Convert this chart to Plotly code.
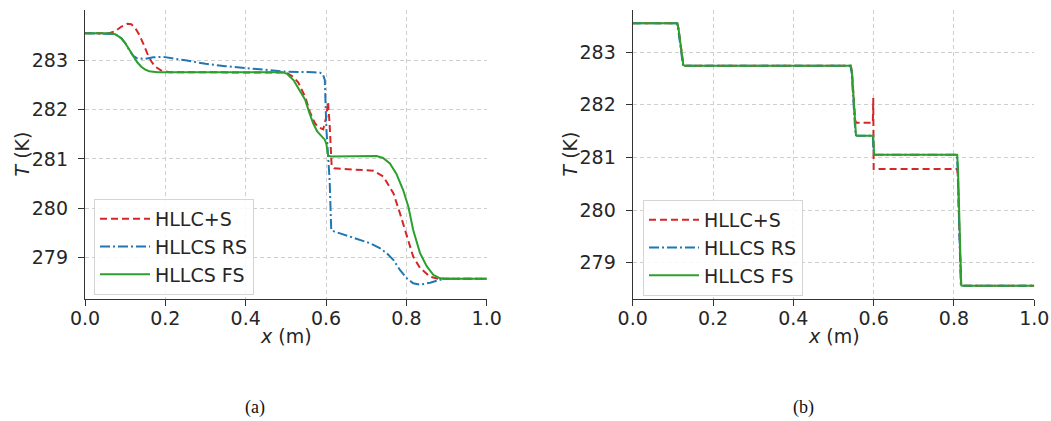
import plotly.graph_objects as go

# ---------------- data ----------------
series_names = ["HLLC+S", "HLLCS RS", "HLLCS FS"]
x_ticks = [0.0, 0.2, 0.4, 0.6, 0.8, 1.0]
x_tick_labels = ["0.0", "0.2", "0.4", "0.6", "0.8", "1.0"]
y_ticks = [279, 280, 281, 282, 283]
y_tick_labels = ["279", "280", "281", "282", "283"]
captions = ["(a)", "(b)"]
x_title = "<i>x</i> (m)"
y_title = "<i>T</i> (K)"

# panel (a)
x_hllc_s_a = [0.0, 0.06, 0.075, 0.09, 0.105, 0.115, 0.125, 0.135, 0.145, 0.155, 0.165, 0.175, 0.19, 0.21,
              0.50, 0.519, 0.531, 0.548, 0.56, 0.572, 0.58, 0.593, 0.601, 0.605, 0.609, 0.614, 0.62, 0.70,
              0.718, 0.743, 0.768, 0.784, 0.801, 0.817, 0.834, 0.859, 0.88, 1.0]
T_hllc_s_a = [283.55, 283.55, 283.59, 283.68, 283.74, 283.73, 283.66, 283.52, 283.34, 283.14, 282.98, 282.87, 282.79, 282.76,
              282.75, 282.66, 282.55, 282.26, 281.95, 281.73, 281.65, 281.60, 281.86, 282.16, 281.70, 280.86, 280.81, 280.78,
              280.76, 280.64, 280.30, 279.90, 279.43, 279.02, 278.79, 278.61, 278.57, 278.57]

x_hllcs_rs_a = [0.0, 0.075, 0.09, 0.10, 0.11, 0.12, 0.13, 0.15, 0.17, 0.195, 0.25, 0.30, 0.35, 0.403, 0.45, 0.50,
                0.568, 0.585, 0.592, 0.597, 0.601, 0.609, 0.613, 0.62, 0.635, 0.67, 0.71, 0.734, 0.751, 0.768,
                0.784, 0.801, 0.817, 0.834, 0.859, 0.884, 0.90, 1.0]
T_hllcs_rs_a = [283.55, 283.53, 283.45, 283.35, 283.21, 283.09, 283.04, 283.03, 283.06, 283.07, 283.00, 282.93, 282.88, 282.84, 282.80, 282.77,
                282.76, 282.75, 282.72, 282.60, 281.59, 280.57, 279.56, 279.53, 279.49, 279.40, 279.29, 279.19, 279.09, 278.95,
                278.75, 278.58, 278.48, 278.45, 278.49, 278.55, 278.57, 278.57]

x_hllcs_fs_a = [0.0, 0.06, 0.075, 0.09, 0.10, 0.11, 0.12, 0.13, 0.14, 0.15, 0.16, 0.18, 0.49, 0.502, 0.519, 0.533,
                0.548, 0.558, 0.568, 0.578, 0.589, 0.597, 0.601, 0.605, 0.612, 0.70, 0.726, 0.742, 0.759, 0.775,
                0.792, 0.805, 0.817, 0.834, 0.851, 0.867, 0.884, 0.90, 1.0]
T_hllcs_fs_a = [283.55, 283.55, 283.53, 283.45, 283.35, 283.22, 283.08, 282.96, 282.87, 282.81, 282.78, 282.76, 282.76, 282.73, 282.60, 282.42,
                282.20, 281.95, 281.72, 281.56, 281.45, 281.39, 281.30, 281.07, 281.05, 281.06, 281.06, 281.02, 280.91, 280.70,
                280.37, 280.03, 279.56, 279.09, 278.82, 278.65, 278.58, 278.57, 278.57]

# panel (b)
x_hllc_s_b = [0.0, 0.111, 0.114, 0.118, 0.122, 0.126, 0.13, 0.543, 0.546, 0.55, 0.554, 0.557, 0.598, 0.599, 0.600,
              0.808, 0.810, 0.813, 0.816, 0.818, 0.82, 1.0]
T_hllc_s_b = [283.55, 283.55, 283.45, 283.2, 282.95, 282.76, 282.74, 282.74, 282.62, 282.1, 281.7, 281.66, 281.66, 282.13, 280.78,
              280.78, 280.6, 279.7, 278.8, 278.57, 278.56, 278.56]

x_hllcs_rs_b = [0.0, 0.110, 0.113, 0.117, 0.121, 0.125, 0.129, 0.542, 0.545, 0.549, 0.552, 0.555, 0.559, 0.598, 0.600,
                0.807, 0.809, 0.812, 0.815, 0.817, 0.819, 1.0]
T_hllcs_rs_b = [283.55, 283.55, 283.45, 283.2, 282.95, 282.76, 282.74, 282.74, 282.62, 282.1, 281.6, 281.42, 281.41, 281.41, 281.05,
                281.05, 280.8, 279.8, 278.8, 278.57, 278.56, 278.56]

x_hllcs_fs_b = [0.0, 0.111, 0.114, 0.118, 0.122, 0.126, 0.13, 0.543, 0.546, 0.55, 0.553, 0.556, 0.56, 0.599, 0.601,
                0.808, 0.810, 0.813, 0.816, 0.818, 0.82, 1.0]
T_hllcs_fs_b = [283.55, 283.55, 283.45, 283.2, 282.95, 282.76, 282.74, 282.74, 282.62, 282.1, 281.6, 281.42, 281.41, 281.41, 281.05,
                281.05, 280.8, 279.8, 278.8, 278.57, 278.56, 278.56]

# ---------------- styling / geometry ----------------
colors = ["#d62728", "#1f77b4", "#2ca02c"]
dashes = ["7px,4px", "10px,3px,2px,3px", "solid"]
FONT = "DejaVu Sans"
TXT = "#262626"

W, H = 1051, 421


def px(xp):
    return xp / W


def py(yp):
    return 1 - yp / H


fig = go.Figure()

panels = [
    ("x", "y", "legend", [(x_hllc_s_a, T_hllc_s_a), (x_hllcs_rs_a, T_hllcs_rs_a), (x_hllcs_fs_a, T_hllcs_fs_a)]),
    ("x2", "y2", "legend2", [(x_hllc_s_b, T_hllc_s_b), (x_hllcs_rs_b, T_hllcs_rs_b), (x_hllcs_fs_b, T_hllcs_fs_b)]),
]
for xa, ya, lg, data in panels:
    for i, (xs, ts) in enumerate(data):
        fig.add_trace(go.Scatter(
            x=xs, y=ts, mode="lines", name=series_names[i],
            line=dict(color=colors[i], width=2, dash=dashes[i]),
            xaxis=xa, yaxis=ya, legend=lg, showlegend=True,
        ))

axis_common = dict(
    showline=True, linecolor="#333333", linewidth=1.3,
    ticks="outside", ticklen=6, tickwidth=1.3, tickcolor="#333333",
    showgrid=True, gridcolor="#cfcfcf", gridwidth=1, griddash="4px,3px",
    zeroline=False, mirror=False, automargin=False,
    tickfont=dict(family=FONT, size=19, color=TXT),
)

xdomA = [px(85), px(486.7)]
xdomB = [px(632.7), px(1034.3)]
ydom = [py(299), py(10)]

title_font = dict(family=FONT, size=19, color=TXT)
cap_font = dict(family="Liberation Serif", size=18, color="#111111")


def note(text, xp, yp, font, angle=0):
    return dict(text=text, x=px(xp), y=py(yp), xref="paper", yref="paper", showarrow=False,
                xanchor="center", yanchor="middle", font=font, textangle=angle)


annotations = [
    note(x_title, 285.8, 336, title_font),
    note(x_title, 833.5, 336, title_font),
    note(y_title, 21, 154.5, title_font, -90),
    note(y_title, 569, 154.5, title_font, -90),
    note(captions[0], 255, 407, cap_font),
    note(captions[1], 803, 407, cap_font),
]

legend_common = dict(xanchor="left", yanchor="top", itemwidth=50,
                     bgcolor="rgba(255,255,255,0.85)", bordercolor="#d5d5d5", borderwidth=1,
                     font=dict(family=FONT, size=19, color=TXT))

fig.update_layout(
    width=W, height=H,
    margin=dict(l=0, r=0, t=0, b=0, autoexpand=False),
    paper_bgcolor="white", plot_bgcolor="white",
    font=dict(family=FONT, size=18, color=TXT),
    xaxis=dict(domain=xdomA, anchor="y", range=[0, 1], tickvals=x_ticks, ticktext=x_tick_labels,
               ticklabelstandoff=-4, **axis_common),
    yaxis=dict(domain=ydom, anchor="x", range=[278.16, 284.02], tickvals=y_ticks, ticktext=y_tick_labels,
               ticklabelstandoff=6, **axis_common),
    xaxis2=dict(domain=xdomB, anchor="y2", range=[0, 1], tickvals=x_ticks, ticktext=x_tick_labels,
                ticklabelstandoff=-4, **axis_common),
    yaxis2=dict(domain=ydom, anchor="x2", range=[278.31, 283.80], tickvals=y_ticks, ticktext=y_tick_labels,
                ticklabelstandoff=6, **axis_common),
    legend=dict(x=px(94), y=py(199), **legend_common),
    legend2=dict(x=px(643), y=py(200), **legend_common),
    annotations=annotations,
)

# remove the browser's default 8 px page margin so the figure sits at the window's top-left corner
fig.write_html("out.html", config={"displayModeBar": False},
               post_script="document.body.style.margin='0px';document.body.style.overflow='hidden';")
